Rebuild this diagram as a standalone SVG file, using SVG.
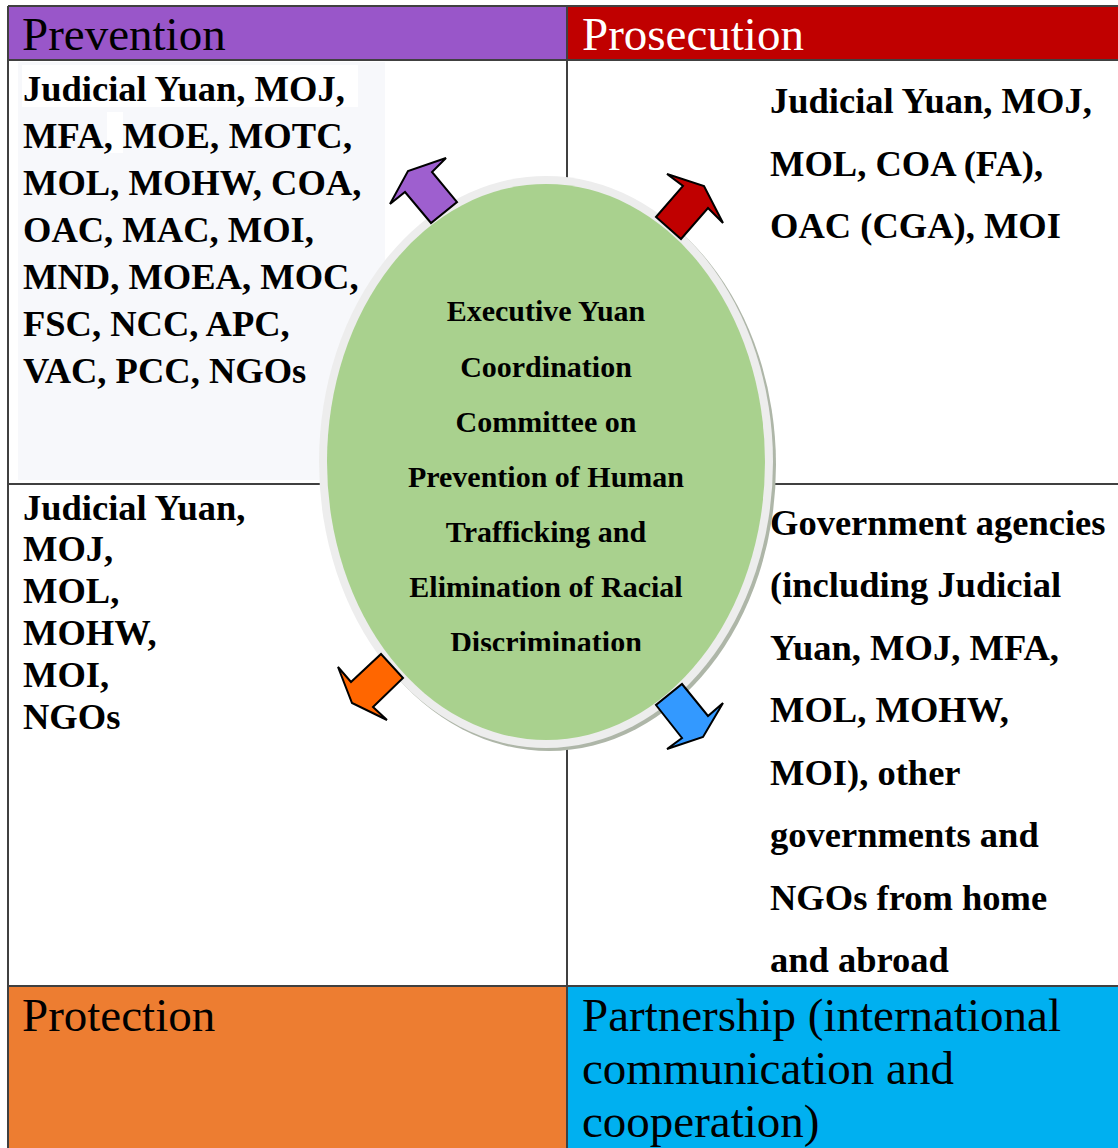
<svg xmlns="http://www.w3.org/2000/svg" width="1118" height="1148" viewBox="0 0 1118 1148">
<style>
.hdr{font-family:"Liberation Serif","Times New Roman",serif;font-size:47px;font-weight:normal}
.body{font-family:"Liberation Serif","Times New Roman",serif;font-size:36.5px;font-weight:bold;fill:#000}
.core{font-family:"Liberation Serif","Times New Roman",serif;font-size:30px;font-weight:bold;fill:#000;text-anchor:middle}
.grid{stroke:#404040;stroke-width:2;fill:none}
.arrow{stroke:#000;stroke-width:2;stroke-linejoin:miter}
</style>
<defs>
<clipPath id="coreClip"><rect x="300" y="150" width="500" height="501"/></clipPath>
</defs>
<rect x="0" y="0" width="1118" height="1148" fill="#fff"/>

<g id="prevention-header">
<rect x="8" y="6" width="559" height="54" fill="#9956C9"/>
<text class="hdr" x="22" y="50" fill="#000">Prevention</text>
</g>
<g id="prosecution-header">
<rect x="567" y="6" width="551" height="54" fill="#C00000"/>
<text class="hdr" x="582" y="50" fill="#fff">Prosecution</text>
</g>

<g id="prevention-agencies">
<rect x="18" y="62" width="367" height="418" fill="#F7F8FB"/>
<rect x="22" y="65" width="336" height="42" fill="#fff"/>
<rect x="107" y="112" width="16" height="41" fill="#fff"/>
<text class="body" x="23" y="101">Judicial Yuan, MOJ,</text>
<text class="body" x="23" y="148" textLength="329" lengthAdjust="spacing">MFA, MOE, MOTC,</text>
<text class="body" x="23" y="195">MOL, MOHW, COA,</text>
<text class="body" x="23" y="242">OAC, MAC, MOI,</text>
<text class="body" x="23" y="289">MND, MOEA, MOC,</text>
<text class="body" x="23" y="336">FSC, NCC, APC,</text>
<text class="body" x="23" y="383">VAC, PCC, NGOs</text>
</g>

<g id="prosecution-agencies">
<text class="body" x="770" y="113">Judicial Yuan, MOJ,</text>
<text class="body" x="770" y="176">MOL, COA (FA),</text>
<text class="body" x="770" y="238">OAC (CGA), MOI</text>
</g>

<g id="protection-agencies">
<text class="body" x="23" y="520">Judicial Yuan,</text>
<text class="body" x="23" y="561">MOJ,</text>
<text class="body" x="23" y="603">MOL,</text>
<text class="body" x="23" y="645">MOHW,</text>
<text class="body" x="23" y="687">MOI,</text>
<text class="body" x="23" y="729">NGOs</text>
</g>

<g id="partnership-agencies">
<text class="body" x="770" y="535">Government agencies</text>
<text class="body" x="770" y="597">(including Judicial</text>
<text class="body" x="770" y="660">Yuan, MOJ, MFA,</text>
<text class="body" x="770" y="722">MOL, MOHW,</text>
<text class="body" x="770" y="785">MOI), other</text>
<text class="body" x="770" y="847">governments and</text>
<text class="body" x="770" y="910">NGOs from home</text>
<text class="body" x="770" y="972">and abroad</text>
</g>

<g id="protection-header">
<rect x="8" y="986" width="559" height="162" fill="#ED7D31"/>
<text class="hdr" x="22" y="1031" fill="#000">Protection</text>
</g>
<g id="partnership-header">
<rect x="567" y="986" width="551" height="162" fill="#00B0F0"/>
<text class="hdr" x="582" y="1031" fill="#000">Partnership (international</text>
<text class="hdr" x="582" y="1084" fill="#000">communication and</text>
<text class="hdr" x="582" y="1137" fill="#000">cooperation)</text>
</g>

<g id="grid-lines">
<line class="grid" x1="8" y1="6" x2="1118" y2="6"/>
<line class="grid" x1="8" y1="60" x2="1118" y2="60"/>
<line class="grid" x1="8" y1="484" x2="1118" y2="484"/>
<line class="grid" x1="8" y1="986" x2="1118" y2="986"/>
<line class="grid" x1="8" y1="6" x2="8" y2="1148"/>
<line class="grid" x1="567" y1="6" x2="567" y2="1148"/>
</g>

<g id="committee">
<ellipse cx="549" cy="465" rx="227" ry="286" fill="#AEB6A8"/>
<ellipse cx="546" cy="462" rx="227" ry="286" fill="#EDEDED"/>
<ellipse cx="546" cy="462" rx="219" ry="278" fill="#A9D18E"/>
<g clip-path="url(#coreClip)">
<text class="core" x="546" y="321">Executive Yuan</text>
<text class="core" x="546" y="377">Coordination</text>
<text class="core" x="546" y="432">Committee on</text>
<text class="core" x="546" y="487">Prevention of Human</text>
<text class="core" x="546" y="542">Trafficking and</text>
<text class="core" x="546" y="597">Elimination of Racial</text>
<text class="core" x="546" y="652">Discrimination</text>
</g>
</g>

<g id="connectors">
<polygon class="arrow" fill="#9E5FCF" points="390,204 408,171 446,158 432,172 457,202 431,223 405,192"/>
<polygon class="arrow" fill="#C00000" points="667,174 704,186 723,223 708,208 681,239 656,217 683,186"/>
<polygon class="arrow" fill="#FF6600" points="338,667 351,682 381,654 403,678 373,707 387,720 352,703"/>
<polygon class="arrow" fill="#3399FF" points="682,684 708,716 723,703 703,737 667,749 682,738 656,705"/>
</g>
</svg>
